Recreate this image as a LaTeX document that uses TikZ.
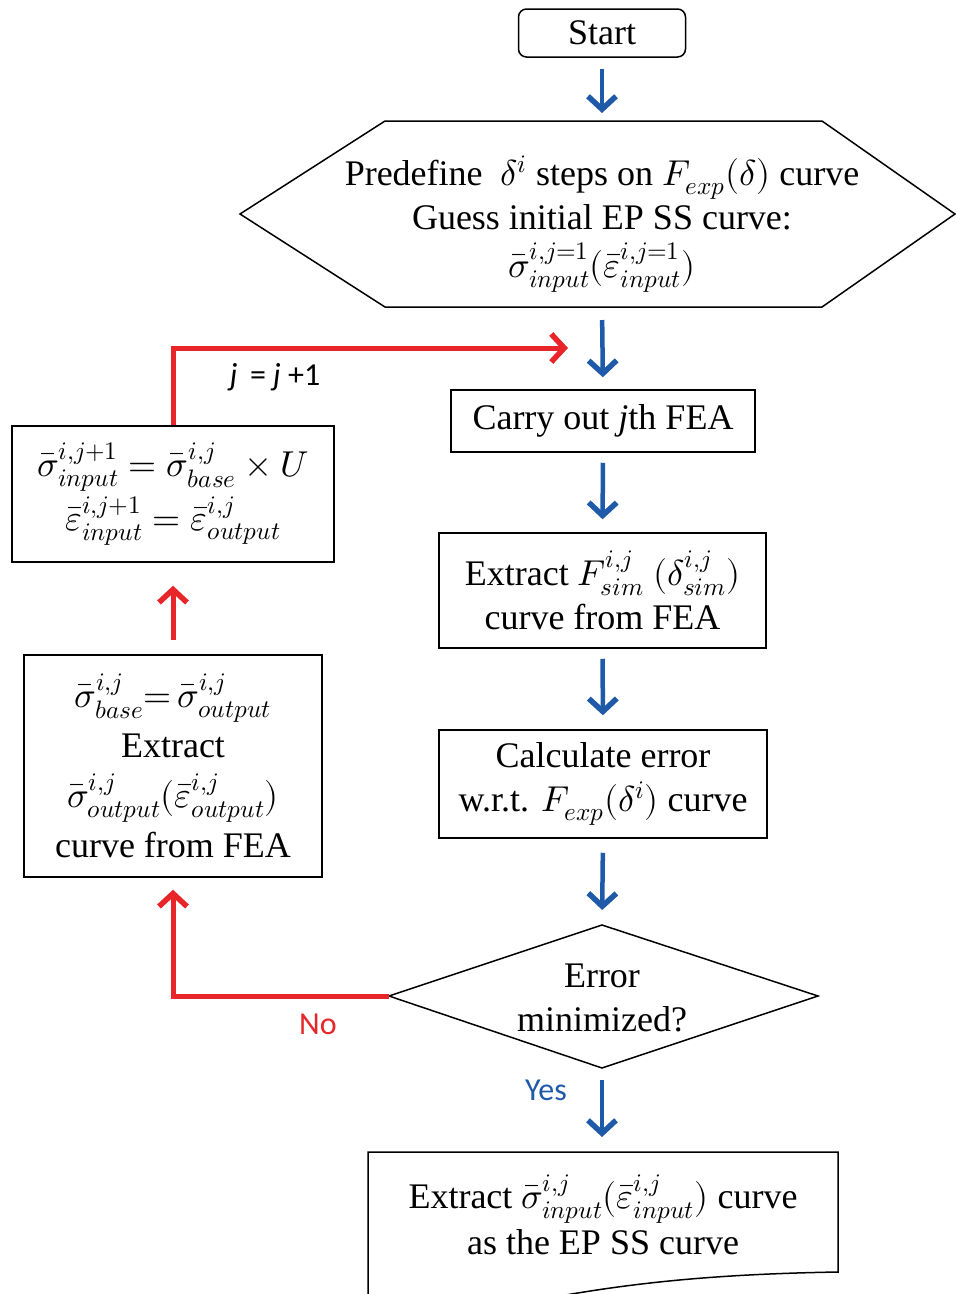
\documentclass[tikz,border=0pt]{standalone}
\usepackage{fontspec}
\usepackage{unicode-math}
\setmainfont{Liberation Serif}
\setmathfont{Latin Modern Math}
\newfontfamily\lab{Carlito}
\usetikzlibrary{arrows.meta}
\definecolor{fblue}{HTML}{1F5AA8}
\definecolor{fred}{HTML}{E8262A}
\tikzset{
 box/.style={draw, line width=1.5pt, align=center, inner sep=0pt, font=\fontsize{36}{44}\selectfont},
 txt/.style={align=center, inner sep=0pt, font=\fontsize{36}{44}\selectfont},
 barrow/.style={draw=fblue, line width=4.5pt, -{Straight Barb[length=13pt,width=28pt,line width=5.5pt]}},
 rarrow/.style={draw=fred, line width=5pt, -{Straight Barb[length=13pt,width=28pt,line width=5.5pt]}},
 lbl/.style={inner sep=0pt, font=\lab\fontsize{32}{36}\selectfont},
 outline/.style={draw, line width=1.5pt},
}
\begin{document}
\begin{tikzpicture}[x=1pt,y=-1pt]
\clip (0,0) rectangle (956,1294);
\useasboundingbox (0,0) rectangle (956,1294);
% start
\node[box, rounded corners=8pt, minimum width=167pt, minimum height=48pt] (start) at (602,33) {Start};
% hexagon
\coordinate (hexT) at (602,121);
\coordinate (hexB) at (602,307);
\draw[outline] (240,214) -- (385,121) -- (822,121) -- (955,214) -- (822,307) -- (385,307) -- cycle;
\node[txt] (hex) at (602,224) {Predefine \ $\delta^i$ steps on $F_{exp}(\delta)$ curve\\
Guess initial EP SS curve:\\[4pt]
$\bar{\sigma}^{i,j=1}_{input}(\bar{\varepsilon}^{i,j=1}_{input})$};
% right column
\node[box, minimum width=304pt, minimum height=62pt] (carry) at (603,421) {Carry out \textit{j}th FEA};
\node[box, minimum width=327pt, minimum height=115pt] (extf) at (602.5,590.5) {Extract $F^{i,j}_{sim}$ $(\delta^{i,j}_{sim})$\\ curve from FEA};
\node[box, minimum width=328pt, minimum height=108pt] (calc) at (603,784) {Calculate error\\ w.r.t. $F_{exp}(\delta^i)$ curve};
% diamond
\coordinate (diaT) at (602,925);
\coordinate (diaB) at (602,1068);
\coordinate (diaL) at (389,996);
\coordinate (diaR) at (818,996);
\draw[outline] (diaL) -- (diaT) -- (diaR) -- (diaB) -- cycle;
\node[txt] (dia) at (602,998) {Error\\ minimized?};
% document
\coordinate (docT) at (602,1152);
\draw[outline] (368,1152) -- (838,1152) -- (838,1272) .. controls (720,1274) and (640,1282) .. (560,1296) .. controls (480,1310) and (420,1312) .. (368,1306) -- cycle;
\node[txt] (doc) at (603,1215) {Extract $\bar{\sigma}^{i,j}_{input}(\bar{\varepsilon}^{i,j}_{input})$ curve\\[2pt] as the EP SS curve};
% left column
\node[box, minimum width=322pt, minimum height=136pt] (upd) at (173,494) {$\bar{\sigma}^{i,j+1}_{input} = \bar{\sigma}^{i,j}_{base}\times U$\\[4pt] $\bar{\varepsilon}^{i,j+1}_{input} = \bar{\varepsilon}^{i,j}_{output}$};
\node[box, minimum width=298pt, minimum height=222pt, font=\fontsize{36}{50}\selectfont] (base) at (173,766) {$\bar{\sigma}^{i,j}_{base}{=}\,\bar{\sigma}^{i,j}_{output}$\\ Extract\\ $\bar{\sigma}^{i,j}_{output}(\bar{\varepsilon}^{i,j}_{output})$\\ curve from FEA};
\coordinate (loopEnd) at (568,348);
% blue arrows
\draw[barrow, shorten <=11pt, shorten >=8pt] (start.south) -- (hexT);
\draw[barrow, shorten <=13pt, shorten >=12pt] (hexB) -- (carry.north);
\draw[barrow, shorten <=10pt, shorten >=13pt] (carry.south) -- (extf.north);
\draw[barrow, shorten <=10pt, shorten >=14pt] (extf.south) -- (calc.north);
\draw[barrow, shorten <=14pt, shorten >=15pt] (calc.south) -- (diaT);
\draw[barrow, shorten <=12pt, shorten >=15pt] (diaB) -- (docT);
% red arrows
\draw[rarrow] (upd.north) |- (loopEnd);
\draw[rarrow, shorten <=14pt, shorten >=23pt] (base.north) -- (upd.south);
\draw[rarrow, shorten >=12pt] (diaL) -| (base.south);
% labels
\node[lbl] (jlab) at (275,377) {\textit{j} \,= \textit{j} +1};
\node[lbl, text=fred] (nolab) at (318,1024) {No};
\node[lbl, text=fblue] (yeslab) at (546,1090) {Yes};
\end{tikzpicture}
\end{document}
